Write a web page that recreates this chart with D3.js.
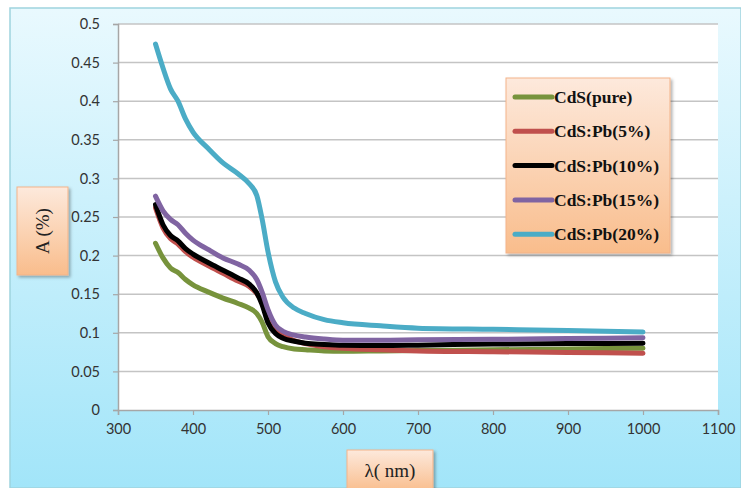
<!DOCTYPE html>
<html>
<head>
<meta charset="utf-8">
<script src="https://cdn.jsdelivr.net/npm/d3@7"></script>
<style>
  body { margin: 0; background: #fff; }
  svg { display: block; }
</style>
</head>
<body>
<script>
const w = 741;
const h = 488;

// wavelength samples (nm) shared by every series
const wavelengths = [350, 360, 370, 380, 390, 400, 420, 440, 460, 475, 485, 492, 500, 510, 520, 535, 550, 575, 600, 650, 700, 800, 900, 1000];

const pure  = [0.216, 0.197, 0.184, 0.178, 0.169, 0.162, 0.153, 0.145, 0.138, 0.132, 0.125, 0.114, 0.095, 0.086, 0.082, 0.079, 0.078, 0.0765, 0.076, 0.0765, 0.077, 0.078, 0.079, 0.080];
const pb5   = [0.262, 0.236, 0.222, 0.215, 0.205, 0.198, 0.187, 0.177, 0.167, 0.160, 0.151, 0.140, 0.120, 0.106, 0.097, 0.090, 0.086, 0.082, 0.080, 0.078, 0.0765, 0.0755, 0.0745, 0.0735];
const pb10  = [0.266, 0.240, 0.226, 0.219, 0.209, 0.202, 0.191, 0.181, 0.171, 0.163, 0.152, 0.137, 0.113, 0.099, 0.093, 0.089, 0.0865, 0.085, 0.084, 0.0835, 0.084, 0.0855, 0.086, 0.0865];
const pb15  = [0.277, 0.258, 0.247, 0.240, 0.229, 0.220, 0.208, 0.197, 0.189, 0.181, 0.169, 0.153, 0.130, 0.110, 0.102, 0.097, 0.0945, 0.092, 0.0905, 0.0905, 0.091, 0.0915, 0.0925, 0.0935];
const pb20  = [0.474, 0.443, 0.416, 0.400, 0.377, 0.360, 0.339, 0.320, 0.306, 0.293, 0.278, 0.248, 0.205, 0.166, 0.146, 0.132, 0.125, 0.117, 0.113, 0.109, 0.106, 0.1045, 0.103, 0.101];

const seriesNames = ["CdS(pure)", "CdS:Pb(5%)", "CdS:Pb(10%)", "CdS:Pb(15%)", "CdS:Pb(20%)"];
const seriesColors = ["#77933c", "#c0504d", "#000000", "#8064a2", "#4bacc6"];
const seriesValues = [pure, pb5, pb10, pb15, pb20];

const xTicks = [300, 400, 500, 600, 700, 800, 900, 1000, 1100];
const yTicks = [0, 0.05, 0.1, 0.15, 0.2, 0.25, 0.3, 0.35, 0.4, 0.45, 0.5];

const plot = { left: 118, right: 718, top: 24, bottom: 410 };

const svg = d3.select("body")
  .append("svg")
  .attr("width", w)
  .attr("height", h);

const defs = svg.append("defs");

const bg = defs.append("linearGradient").attr("id", "bg")
  .attr("x1", 0).attr("y1", 0).attr("x2", 0).attr("y2", 1);
bg.append("stop").attr("offset", "0%").attr("stop-color", "#e9f9fe");
bg.append("stop").attr("offset", "100%").attr("stop-color", "#a2e5f9");

const peach = defs.append("linearGradient").attr("id", "peach")
  .attr("x1", 0).attr("y1", 0).attr("x2", 0).attr("y2", 1);
peach.append("stop").attr("offset", "0%").attr("stop-color", "#fde9dc");
peach.append("stop").attr("offset", "100%").attr("stop-color", "#f9bd8c");

const shadow = defs.append("filter").attr("id", "shadow")
  .attr("x", "-10%").attr("y", "-10%").attr("width", "130%").attr("height", "130%");
shadow.append("feDropShadow")
  .attr("dx", 2).attr("dy", 2).attr("stdDeviation", 1.5)
  .attr("flood-color", "#000").attr("flood-opacity", 0.3);

// chart area background
svg.append("rect")
  .attr("x", 10).attr("y", 8)
  .attr("width", w - 10).attr("height", h - 8)
  .attr("fill", "url(#bg)")
  .attr("stroke", "#9fd3de")
  .attr("stroke-width", 1.5);

// plot area
svg.append("rect")
  .attr("x", plot.left).attr("y", plot.top)
  .attr("width", plot.right - plot.left).attr("height", plot.bottom - plot.top)
  .attr("fill", "#fff");

const x = d3.scaleLinear().domain([300, 1100]).range([plot.left, plot.right]);
const y = d3.scaleLinear().domain([0, 0.5]).range([plot.bottom, plot.top]);

// gridlines
svg.append("g")
  .selectAll("line")
  .data(yTicks.filter(d => d > 0))
  .enter()
  .append("line")
  .attr("x1", plot.left).attr("x2", plot.right)
  .attr("y1", d => y(d)).attr("y2", d => y(d))
  .attr("stroke", "#c4c4c4")
  .attr("stroke-width", 1.5);

const xAxis = svg.append("g")
  .attr("transform", "translate(0," + plot.bottom + ")")
  .call(d3.axisBottom(x).tickValues(xTicks).tickSize(5).tickPadding(9).tickFormat(d3.format("d")));

const yAxis = svg.append("g")
  .attr("transform", "translate(" + plot.left + ",0)")
  .call(d3.axisLeft(y).tickValues(yTicks).tickSize(5).tickPadding(13).tickFormat(d => String(d)));

[xAxis, yAxis].forEach(a => {
  a.select(".domain").attr("stroke", "#a6a6a6").attr("stroke-width", 1.5);
  a.selectAll(".tick line").attr("stroke", "#a6a6a6").attr("stroke-width", 1.2);
  a.selectAll(".tick text")
    .attr("fill", "#333")
    .style("font-family", "Lato, 'Open Sans', sans-serif")
    .style("font-size", "14.5px");
});

// curves
const line = d3.line()
  .x((d, i) => x(wavelengths[i]))
  .y(d => y(d))
  .curve(d3.curveMonotoneX);

svg.append("g")
  .selectAll("path")
  .data(seriesValues)
  .enter()
  .append("path")
  .attr("d", d => line(d))
  .attr("fill", "none")
  .attr("stroke", (d, i) => seriesColors[i])
  .attr("stroke-width", 5)
  .attr("stroke-linecap", "round")
  .attr("stroke-linejoin", "round");

// legend
const legendBox = { x: 506, y: 78, w: 164, h: 175 };
svg.append("rect")
  .attr("x", legendBox.x).attr("y", legendBox.y)
  .attr("width", legendBox.w).attr("height", legendBox.h)
  .attr("fill", "url(#peach)")
  .attr("stroke", "#f3b389")
  .attr("filter", "url(#shadow)");

const legend = svg.append("g")
  .selectAll("g")
  .data(seriesNames)
  .enter()
  .append("g")
  .attr("transform", (d, i) => "translate(" + (legendBox.x + 9) + "," + (legendBox.y + 19 + i * 34.3) + ")");

legend.append("line")
  .attr("x1", 0).attr("x2", 37)
  .attr("stroke", (d, i) => seriesColors[i])
  .attr("stroke-width", 5)
  .attr("stroke-linecap", "round");

legend.append("text")
  .attr("x", 39)
  .attr("y", 6)
  .attr("fill", "#111")
  .style("font-family", "'Liberation Serif', 'Times New Roman', serif")
  .style("font-weight", "bold")
  .style("font-size", "17.5px")
  .text(d => d);

// axis titles
svg.append("rect")
  .attr("x", 17).attr("y", 187).attr("width", 51).attr("height", 88)
  .attr("fill", "url(#peach)")
  .attr("stroke", "#f3b389")
  .attr("filter", "url(#shadow)");
svg.append("text")
  .attr("transform", "translate(49,231) rotate(-90)")
  .attr("text-anchor", "middle")
  .attr("fill", "#222")
  .style("font-family", "'Liberation Serif', 'Times New Roman', serif")
  .style("font-size", "19px")
  .text("A (%)");

svg.append("rect")
  .attr("x", 347).attr("y", 450).attr("width", 86).attr("height", 42)
  .attr("fill", "url(#peach)")
  .attr("stroke", "#f3b389")
  .attr("filter", "url(#shadow)");
svg.append("text")
  .attr("x", 390).attr("y", 477)
  .attr("text-anchor", "middle")
  .attr("fill", "#222")
  .style("font-family", "'Liberation Serif', 'Times New Roman', serif")
  .style("font-size", "19px")
  .text("λ( nm)");
</script>
</body>
</html>
